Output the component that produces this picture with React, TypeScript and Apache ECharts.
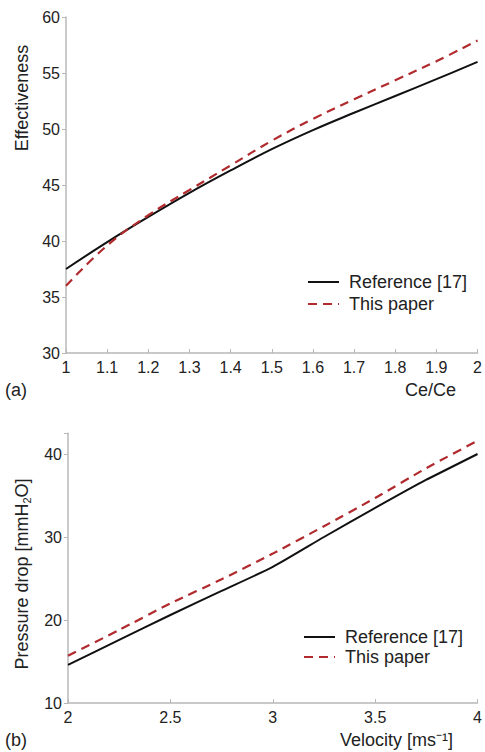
import React, { useEffect, useRef } from "react";
import * as echarts from "echarts";

const ratioX = [1, 1.1, 1.2, 1.3, 1.4, 1.5, 1.6, 1.7, 1.8, 1.9, 2];
const effRef = [37.5, 39.9, 42.15, 44.3, 46.3, 48.2, 49.9, 51.45, 52.95, 54.45, 56.0];
const effPaper = [36.0, 39.6, 42.3, 44.55, 46.75, 48.95, 50.9, 52.65, 54.35, 56.05, 57.9];

const velX = [2, 2.25, 2.5, 2.75, 3, 3.25, 3.5, 3.75, 4];
const pdRef = [14.6, 17.6, 20.6, 23.5, 26.4, 30.0, 33.5, 36.9, 40.0];
const pdPaper = [15.7, 18.8, 22.0, 24.9, 28.0, 31.3, 34.7, 38.3, 41.6];

const seriesNames = ["Reference [17]", "This paper"];

const FONT = "Liberation Sans, Arial, sans-serif";
const TXT = "#222";
const AXIS = "#b8b8b8";
const BLACK = "#111111";
const RED = "#b02a2e";

export default function App() {
  const ref = useRef<HTMLDivElement>(null);
  useEffect(() => {
    if (!ref.current) return;
    const chart = echarts.init(ref.current, null, { renderer: "svg" });
    const axisCommon = {
      axisLine: { show: true, lineStyle: { color: AXIS, width: 1.5 } },
      splitLine: { show: false },
      axisLabel: { color: TXT, fontSize: 16, fontFamily: FONT },
    };
    const zip = (xs: number[], ys: number[]) => xs.map((x, i) => [x, ys[i]]);
    const legendCommon = {
      orient: "vertical",
      padding: 0,
      itemWidth: 31,
      itemHeight: 18,
      data: seriesNames,
      itemStyle: { opacity: 0, borderWidth: 0 },
      textStyle: { color: TXT, fontSize: 18, fontFamily: FONT, padding: [0, 0, 0, 5] },
    };
    chart.setOption({
      animation: false,
      backgroundColor: "#fff",
      textStyle: { fontFamily: FONT },
      grid: [
        { left: 66, top: 17, width: 413, height: 336 },
        { left: 68, top: 433.25, width: 412, height: 269.75 },
      ],
      xAxis: [
        {
          ...axisCommon,
          type: "value",
          gridIndex: 0,
          min: 1,
          max: 2,
          interval: 0.1,
          axisTick: { show: true, inside: true, length: 4, lineStyle: { color: AXIS } },
          axisLabel: { ...axisCommon.axisLabel, margin: 6, formatter: (v: number) => String(Math.round(v * 10) / 10) },
        },
        {
          ...axisCommon,
          type: "value",
          gridIndex: 1,
          min: 2,
          max: 4,
          interval: 0.5,
          axisTick: { show: true, inside: true, length: 4, lineStyle: { color: AXIS } },
          axisLabel: { ...axisCommon.axisLabel, margin: 6 },
        },
      ],
      yAxis: [
        {
          ...axisCommon,
          type: "value",
          gridIndex: 0,
          min: 30,
          max: 60,
          interval: 5,
          axisTick: { show: true, length: 4, lineStyle: { color: AXIS } },
          axisLabel: { ...axisCommon.axisLabel, margin: 6 },
        },
        {
          ...axisCommon,
          type: "value",
          gridIndex: 1,
          min: 10,
          max: 42.5,
          interval: 10,
          axisTick: { show: true, length: 4, lineStyle: { color: AXIS } },
          axisLabel: {
            ...axisCommon.axisLabel,
            margin: 6,
            formatter: (v: number) => (Math.abs(v % 10) < 1e-6 ? String(v) : ""),
          },
        },
      ],
      legend: [
        { ...legendCommon, left: 307, top: 273, itemGap: 4 },
        { ...legendCommon, left: 303, top: 628, itemGap: 2 },
      ],
      series: [
        {
          name: seriesNames[0],
          type: "line",
          xAxisIndex: 0,
          yAxisIndex: 0,
          data: zip(ratioX, effRef),
          smooth: 0.4,
          symbol: "none",
          lineStyle: { color: BLACK, width: 2 },
          itemStyle: { color: BLACK },
        },
        {
          name: seriesNames[1],
          type: "line",
          xAxisIndex: 0,
          yAxisIndex: 0,
          data: zip(ratioX, effPaper),
          smooth: 0.4,
          symbol: "none",
          lineStyle: { color: RED, width: 2.2, type: [9, 6] },
          itemStyle: { color: RED },
        },
        {
          name: seriesNames[0],
          type: "line",
          xAxisIndex: 1,
          yAxisIndex: 1,
          data: zip(velX, pdRef),
          smooth: 0.2,
          symbol: "none",
          lineStyle: { color: BLACK, width: 2 },
          itemStyle: { color: BLACK },
        },
        {
          name: seriesNames[1],
          type: "line",
          xAxisIndex: 1,
          yAxisIndex: 1,
          data: zip(velX, pdPaper),
          smooth: 0.2,
          symbol: "none",
          lineStyle: { color: RED, width: 2.2, type: [9, 6] },
          itemStyle: { color: RED },
        },
      ],
      graphic: [
        {
          type: "text",
          x: 22,
          y: 98,
          rotation: Math.PI / 2,
          style: { text: "Effectiveness", fill: TXT, font: `18px ${FONT}`, align: "center", verticalAlign: "middle" },
        },
        {
          type: "text",
          x: 22,
          y: 574,
          rotation: Math.PI / 2,
          style: {
            text: "Pressure drop [mmH{sub|2}O]",
            fill: TXT,
            font: `18px ${FONT}`,
            align: "center",
            verticalAlign: "middle",
            rich: {
              sub: { fontSize: 11, fontFamily: FONT, fill: TXT, verticalAlign: "bottom", padding: [9, 0, 0, 0] },
            },
          },
        },
        { type: "text", left: 5, top: 381, style: { text: "(a)", fill: TXT, font: `18px ${FONT}` } },
        { type: "text", right: 29, top: 381, style: { text: "Ce/Ce", fill: TXT, font: `18px ${FONT}` } },
        { type: "text", left: 5, top: 731, style: { text: "(b)", fill: TXT, font: `18px ${FONT}` } },
        { type: "text", right: 32, top: 731, style: { text: "Velocity [ms\u207B\u00B9]", fill: TXT, font: `18px ${FONT}` } },
      ],
    });
    return () => chart.dispose();
  }, []);
  return (
    <div
      ref={ref}
      style={{ position: "absolute", left: 0, top: 0, width: 485, height: 752 }}
    />
  );
}
